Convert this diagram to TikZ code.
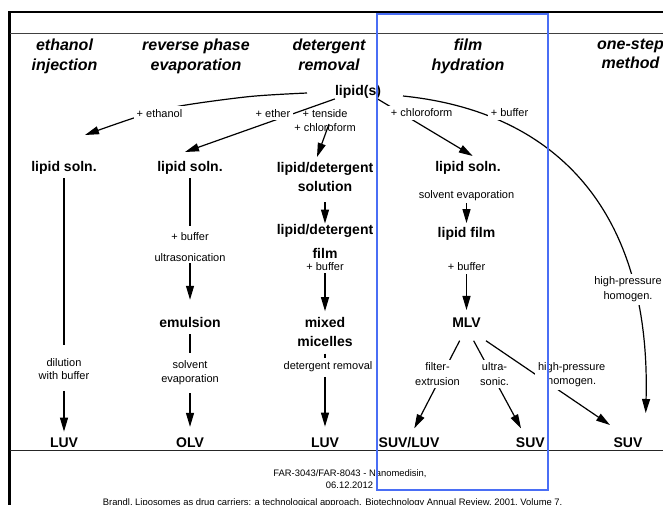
\documentclass[tikz,border=0pt]{standalone}
\usepackage{fontspec}
\setmainfont{Liberation Sans}
\usetikzlibrary{arrows.meta,backgrounds}
\definecolor{hlblue}{RGB}{74,110,245}
\begin{document}
\begin{tikzpicture}[x=1pt,y=-1pt,
  hdr/.style={font=\fontsize{16}{19.5}\selectfont\bfseries\itshape, align=center, inner sep=0pt, anchor=north},
  nd/.style={font=\fontsize{14}{19}\selectfont\bfseries, align=center, inner sep=0pt},
  lbl/.style={font=\fontsize{11}{14.5}\selectfont, align=center, inner sep=0pt},
  lblw/.style={lbl, fill=white, inner sep=3pt},
  foot/.style={font=\fontsize{9.4}{12}\selectfont, inner sep=0pt, anchor=base},
  conn/.style={line width=1.2pt, draw=black},
  arr/.style={conn, -{Triangle[length=14pt,width=8pt]}},
]
\useasboundingbox (0,0) rectangle (663,504);

% headers
\node[hdr] (h1) at (64.5,38.8) {ethanol\\injection};
\node[hdr] (h2) at (196,38.8) {reverse phase\\evaporation};
\node[hdr] (h3) at (329,38.8) {detergent\\removal};
\node[hdr] (h4) at (468,38.8) {film\\hydration};
\node[hdr] (h5) at (630.5,38.8) {one-step\\method};

% main nodes
\node[nd] (lipids) at (358,92.2) {lipid(s)};
\node[nd] (ls1) at (64,168) {lipid soln.};
\node[nd] (ls2) at (190,168) {lipid soln.};
\node[nd] (lds) at (325,177.2) {lipid/detergent\\solution};
\node[nd] (lsf) at (468,168) {lipid soln.};
\node[nd] (ldf) at (325,241.3) {lipid/detergent\\[5pt]film};
\node[nd] (lfilm) at (466.5,234.2) {lipid film};
\node[nd] (emul) at (190,322.8) {emulsion};
\node[nd] (mm) at (325,332.4) {mixed\\micelles};
\node[nd] (mlv) at (466.5,322.5) {MLV};
\node[nd] (luv1) at (64,442.5) {LUV};
\node[nd] (olv) at (190,442.5) {OLV};
\node[nd] (luv2) at (325,442.5) {LUV};
\node[nd] (suvluv) at (409,442.5) {SUV/LUV};
\node[nd] (suvf) at (530.3,442.5) {SUV};
\node[nd] (suvr) at (628,442.5) {SUV};

% step labels
\node[lbl] (dil) at (64,369.35) {dilution\\[-1.2pt]with buffer};
\node[lbl] (rb) at (190,247.2) {+ buffer\\[6.5pt]ultrasonication};
\node[lbl] (rse) at (190,372.8) {solvent\\evaporation};
\node[lbl] (tens) at (325,120.7) {+ tenside\\[-0.5pt]+ chloroform};
\node[lbl] (dbuf) at (325,266.7) {+ buffer};
\node[lbl] (drem) at (328,366.85) {detergent removal};
\node[lbl] (fse) at (466.5,195.15) {solvent evaporation};
\node[lbl] (fbuf) at (466.5,266.7) {+ buffer};

% labels sitting on connectors
\node[lblw] (leth) at (159.5,113.3) {+ ethanol};
\node[lblw] (lether) at (273,113.3) {+ ether};
\node[lblw] (lchl) at (421.7,112.8) {+ chloroform};
\node[lblw] (lbuf) at (509.5,112.8) {+ buffer};
\node[lblw] (lhp1) at (628,289.2) {high-pressure\\homogen.};
\node[lblw] (lfe) at (437.5,373.9) {filter-\\extrusion};
\node[lblw] (lus) at (494.5,373.9) {ultra-\\sonic.};
\node[lblw] (lhp2) at (571.7,374.5) {high-pressure\\homogen.};

% footer
\node[foot] (f1) at (350,476.8) {FAR-3043/FAR-8043 - Nanomedisin,};
\node[foot] (f2) at (349.5,488.5) {06.12.2012};
\node[foot] (f3) at (332.6,505) {Brandl, Liposomes as drug carriers: a technological approach. Biotechnology Annual Review, 2001, Volume 7.};

% free ends
\coordinate (eth0) at (307,93);
\coordinate (ethtip) at (85,135);
\coordinate (ethertip) at (185,152);
\coordinate (tens0) at (329,124);
\coordinate (tenstip) at (317,157);
\coordinate (chltip) at (472.7,156);
\coordinate (buf0) at (403,96);
\coordinate (buftip) at (645.7,413);
\coordinate (tfe) at (414.3,428.3);
\coordinate (tus) at (521,428.3);
\coordinate (thp) at (610,425);

\begin{scope}[on background layer]
  % frame
  \draw[line width=2.6pt] (9.5,505) -- (9.5,12) -- (663,12);
  \draw[line width=1.1pt, black!75] (9.5,33.5) -- (663,33.5);
  \draw[line width=1.1pt, black!85] (9.5,450.5) -- (663,450.5);

  % from lipid(s)
  \draw[arr] plot[smooth] coordinates {(eth0) (250,96.5) (180,106) (137,117) (ethtip)};
  \draw[arr] (lipids.south west) -- (ethertip);
  \draw[arr] (tens0) -- (tenstip);
  \draw[arr] (lipids.-19) -- (chltip);
  \draw[arr] (buf0) .. controls (560,112) and (651,215) .. (buftip);

  % ethanol injection
  \draw[conn, shorten <=3.4pt, shorten >=13.7pt] (ls1) -- (dil);
  \draw[arr, shorten <=10.7pt, shorten >=5.8pt] (dil) -- (luv1);

  % reverse phase evaporation
  \draw[conn, shorten <=3.4pt, shorten >=6pt] (ls2) -- (rb);
  \draw[arr, shorten <=1.5pt, shorten >=17.7pt] (rb) -- (emul);
  \draw[conn, shorten <=6pt, shorten >=7pt] (emul) -- (rse);
  \draw[arr, shorten <=7.7pt, shorten >=10.5pt] (rse) -- (olv);

  % detergent removal
  \draw[arr, shorten <=10pt, shorten >=0.5pt] (lds) -- (ldf);
  \draw[arr, shorten <=2.3pt, shorten >=6.4pt] (dbuf) -- (mm);
  \draw[conn, shorten <=6.3pt, shorten >=3.7pt] (mm) -- (drem.north -| mm);
  \draw[arr, shorten <=4.7pt, shorten >=10.8pt] (drem.south -| luv2) -- (luv2);

  % film hydration
  \draw[arr, shorten <=3pt, shorten >=4.4pt] (fse) -- (lfilm);
  \draw[arr, shorten <=3.3pt, shorten >=7.5pt] (fbuf) -- (mlv);
  \draw[arr, shorten <=14.8pt] (mlv.south) -- (tfe);
  \draw[arr, shorten <=15pt] (mlv.south) -- (tus);
  \draw[arr, shorten <=23.5pt] (mlv.south) -- (thp);
\end{scope}

% highlight box
\draw[hlblue, line width=2pt] (376.7,14) rectangle (547.7,490);
\end{tikzpicture}
\end{document}
